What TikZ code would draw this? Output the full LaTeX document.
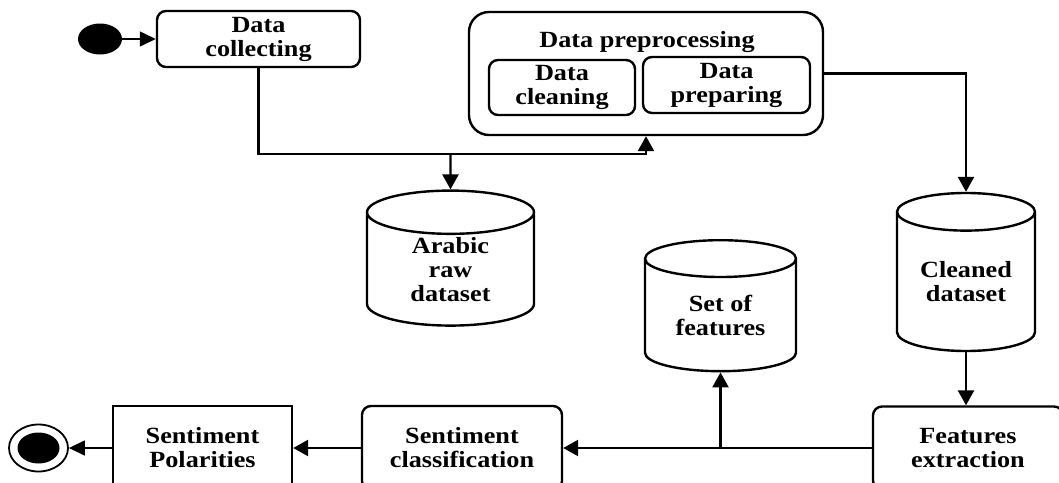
\documentclass[tikz,border=0pt]{standalone}
\usepackage{fontspec}
\setmainfont{Liberation Serif}[FakeStretch=1.13]
\usetikzlibrary{shapes.geometric,arrows.meta}

\begin{document}
\begin{tikzpicture}[x=0.5pt, y=-0.5pt,
  font=\fontsize{11.6}{12}\selectfont\bfseries,
  every node/.style={align=center, inner sep=0pt},
  act/.style={draw, line width=1.2pt, rounded corners=4.5pt},
  store/.style={draw, line width=1.2pt, cylinder, shape border rotate=90},
  flow/.style={line width=1.2pt, -{Triangle[length=7.5pt,width=8pt]}},
  thinflow/.style={line width=0.7pt, -{Triangle[length=8pt,width=7.5pt]}}]
\useasboundingbox (0,0) rectangle (1059,482);
\clip (0,0) rectangle (1059,482);
\node[ellipse, fill, minimum width=22pt, minimum height=15.5pt] (start) at (100,39) {};
\node[act, minimum width=101.5pt, minimum height=28pt] (collect) at (258.5,39) {Data\\collecting};
\node[act, rounded corners=10pt, minimum width=177pt, minimum height=61.5pt] (preproc) at (646,73.5) {};
\node (pretitle) at (647,42) {Data preprocessing};
\node[act, minimum width=73pt, minimum height=27.5pt] (clean) at (562,87.5) {Data\\cleaning};
\node[act, minimum width=83.5pt, minimum height=28pt] (prepare) at (726.5,85) {Data\\preparing};
\node[store, aspect=0.54, minimum width=83.5pt, minimum height=67.5pt] (rawdata) at (450.5,269.5) {Arabic\\raw\\dataset};
\node[store, aspect=0.41, minimum width=75.5pt, minimum height=65.5pt] (setfeat) at (720.5,315.5) {Set of\\features};
\node[store, aspect=0.41, minimum width=69pt, minimum height=79pt] (cleaned) at (966,282) {Cleaned\\dataset};
\node[act, minimum width=95pt, minimum height=41.5pt] (extract) at (968,448) {Features\\extraction};
\node[act, minimum width=100pt, minimum height=42pt] (classify) at (462,448) {Sentiment\\classification};
\node[draw, line width=1.2pt, minimum width=89.5pt, minimum height=42pt] (polar) at (202.5,448) {Sentiment\\Polarities};
\node[ellipse, draw, line width=0.9pt, minimum width=29.5pt, minimum height=23.5pt,
  path picture={\fill (path picture bounding box.center) ellipse (10.5pt and 7.75pt);}] (stop) at (38.5,448) {};
\coordinate (split1) at (450.5,154);
\coordinate (split2) at (720.5,448);
\draw[thinflow] (start) -- (collect);
\draw[line width=1.2pt] (collect.south) |- (split1);
\draw[flow] (split1) -- (rawdata.north);
\draw[flow] (split1) -| (preproc.south);
\draw[flow] (preproc.east) -| (cleaned.north);
\draw[flow] (cleaned.south) -- (cleaned.south |- extract.north);
\draw[flow] (extract) -- (classify);
\draw[flow] (split2) -- (setfeat.south);
\draw[flow] (classify) -- (polar);
\draw[thinflow] (polar) -- (stop);
\end{tikzpicture}
\end{document}
